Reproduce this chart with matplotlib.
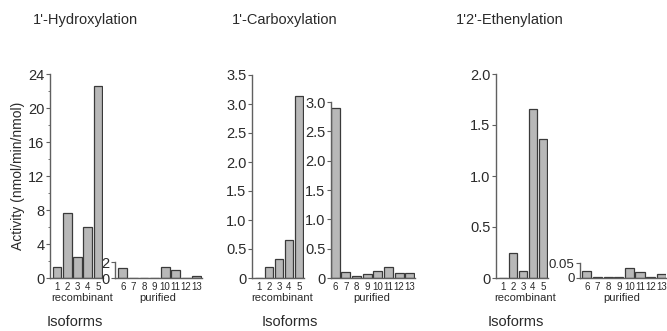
import numpy as np
import matplotlib.pyplot as plt
from matplotlib.ticker import MultipleLocator, FuncFormatter

plt.rcParams['font.family'] = ['Liberation Sans', 'DejaVu Sans']

# data (nmol/min/nmol)
recomb_ids = [1, 2, 3, 4, 5]
purif_ids = [6, 7, 8, 9, 10, 11, 12, 13]

hydrox_recomb = [1.3, 7.6, 2.5, 6.0, 22.6]
hydrox_purif = [1.3, 0.05, 0.05, 0.05, 1.4, 1.0, 0.05, 0.25]

carbox_recomb = [0.0, 0.19, 0.32, 0.66, 3.13]
carbox_purif = [2.89, 0.11, 0.03, 0.07, 0.12, 0.18, 0.08, 0.08]

ethen_recomb = [0.0, 0.25, 0.065, 1.66, 1.36]
ethen_purif = [0.024, 0.002, 0.002, 0.002, 0.033, 0.02, 0.002, 0.015]

titles = ["1'-Hydroxylation", "1'-Carboxylation", "1'2'-Ethenylation"]

W, H = 667, 331
fig = plt.figure(figsize=(W / 100, H / 100), dpi=100)

BAR = '#b8b8b8'
EDGE = '#3a3a3a'
SPINE = '#606060'
TXT = '#2a2a2a'


def make_ax(x0, x1, ytop, ybot=278):
    ax = fig.add_axes([x0 / W, 1 - ybot / H, (x1 - x0) / W, (ybot - ytop) / H])
    ax.spines['top'].set_visible(False)
    ax.spines['right'].set_visible(False)
    for s in ('left', 'bottom'):
        ax.spines[s].set_color(SPINE)
        ax.spines[s].set_linewidth(1.0)
    ax.patch.set_alpha(0)
    ax.tick_params(axis='x', length=0, labelsize=7, pad=3, colors=TXT)
    ax.tick_params(axis='y', length=3, width=0.8, color=SPINE, labelsize=10.5,
                   pad=1, labelcolor=TXT)
    ax.tick_params(axis='y', which='minor', length=1.5, width=0.6, color=SPINE)
    return ax


def fmt(step_decimals):
    def f(v, pos):
        if abs(v) < 1e-9:
            return '0'
        return f'{v:.{step_decimals}f}'
    return FuncFormatter(f)


def draw(ax, ids, vals, xlim, ylim, major, minor, dec):
    ax.bar(ids, vals, width=0.85, color=BAR, edgecolor=EDGE, linewidth=0.9)
    ax.set_xlim(*xlim)
    ax.set_ylim(*ylim)
    ax.set_xticks(ids)
    ax.set_xticklabels([str(i) for i in ids])
    ax.yaxis.set_major_locator(MultipleLocator(major))
    if minor:
        ax.yaxis.set_minor_locator(MultipleLocator(minor))
    ax.yaxis.set_major_formatter(fmt(dec))


# panel 1
a = make_ax(50, 103, 74)
draw(a, recomb_ids, hydrox_recomb, (0.3, 5.5), (0, 24), 4, 2, 0)
a.set_ylabel('Activity (nmol/min/nmol)', fontsize=10, color=TXT, labelpad=2)
b = make_ax(115, 202, 262)
draw(b, purif_ids, hydrox_purif, (5.25, 13.5), (0, 2), 2, None, 0)

# panel 2
a = make_ax(252, 304, 75)
draw(a, recomb_ids, carbox_recomb, (0.3, 5.5), (0, 3.5), 0.5, None, 1)
b = make_ax(331, 415, 102)
draw(b, purif_ids, carbox_purif, (5.6, 13.5), (0, 3.0), 0.5, None, 1)

# panel 3
a = make_ax(496, 548, 74)
draw(a, recomb_ids, ethen_recomb, (0.3, 5.5), (0, 2.0), 0.5, None, 1)
b = make_ax(580, 666, 263)
draw(b, purif_ids, ethen_purif, (5.35, 13.45), (0, 0.05), 0.05, None, 2)
b.tick_params(axis='y', labelsize=9.5)

# titles and group labels
centers = [85, 285, 510]
rec_x = [82, 282, 525]
pur_x = [158, 372, 622]
for t, cx, rx, px in zip(titles, centers, rec_x, pur_x):
    fig.text(cx / W, 1 - 20 / H, t, ha='center', va='center', fontsize=10.5, color=TXT)
    fig.text(rx / W, 1 - 298 / H, 'recombinant', ha='center', va='center', fontsize=8, color=TXT)
    fig.text(px / W, 1 - 298 / H, 'purified', ha='center', va='center', fontsize=8, color=TXT)

for cx in [75, 290, 516]:
    fig.text(cx / W, 1 - 322 / H, 'Isoforms', ha='center', va='center', fontsize=10.5, color=TXT)

fig.savefig('out.png', dpi=100)
